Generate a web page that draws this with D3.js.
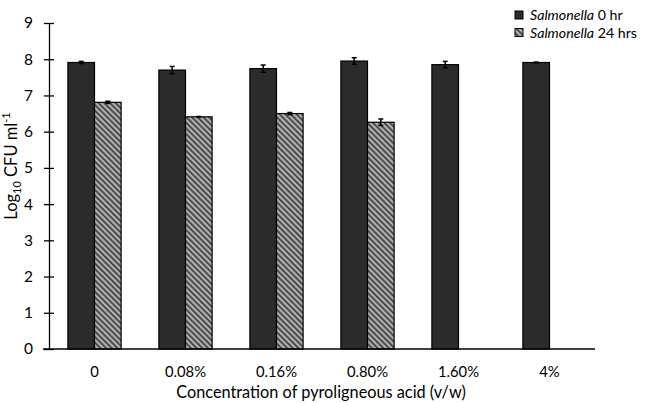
<!DOCTYPE html>
<html><head><meta charset="utf-8">
<script src="https://cdn.jsdelivr.net/npm/d3@7/dist/d3.min.js"></script>
<style>body{margin:0;background:#fff}svg{display:block}text{font-family:Lato,"Open Sans",sans-serif;fill:#000}</style>
</head><body><div id="chart"></div>
<script>
const categories = ["0", "0.08%", "0.16%", "0.80%", "1.60%", "4%"];
const series0 = [7.91, 7.70, 7.74, 7.95, 7.85, 7.91];
const err0 = [0.03, 0.10, 0.10, 0.09, 0.09, 0.01];
const series24 = [6.81, 6.41, 6.50, 6.26, null, null];
const err24 = [0.03, 0.01, 0.03, 0.09, null, null];
const seriesNames = ["Salmonella 0 hr", "Salmonella 24 hrs"];
const yTicks = [0,1,2,3,4,5,6,7,8,9];

const W = 649, H = 403;
const m = {left: 49, right: 54, top: 23, bottom: 54};
const svg = d3.select("#chart").append("svg").attr("width", W).attr("height", H);

const defs = svg.append("defs");
const pat = defs.append("pattern").attr("id","hatch").attr("patternUnits","userSpaceOnUse")
  .attr("width",4).attr("height",4).attr("patternTransform","rotate(-45)");
pat.append("rect").attr("width",4).attr("height",4).attr("fill","#b0b0b0");
pat.append("rect").attr("width",1.7).attr("height",4).attr("fill","#3c3c3c");

const x = d3.scaleBand().domain(categories).range([m.left, W - m.right]).paddingInner(0).paddingOuter(0);
const inner = d3.scaleBand().domain([0,1]).range([0, x.bandwidth()]).paddingInner(0).paddingOuter(0.71);
const y = d3.scaleLinear().domain([0, 9]).range([H - m.bottom, m.top]);

const data = [];
categories.forEach((c, i) => {
  data.push({c, s: 0, v: series0[i], e: err0[i]});
  if (series24[i] != null) data.push({c, s: 1, v: series24[i], e: err24[i]});
});

const g = svg.append("g");
g.selectAll("rect.bar").data(data).join("rect").attr("class","bar")
  .attr("x", d => x(d.c) + inner(d.s))
  .attr("width", inner.bandwidth())
  .attr("y", d => y(d.v))
  .attr("height", d => y(0) - y(d.v))
  .attr("fill", d => d.s === 0 ? "#2b2b2b" : "url(#hatch)")
  .attr("stroke", "#000").attr("stroke-width", 1.2);

// error bars
const eb = g.selectAll("g.err").data(data.filter(d => d.e)).join("g").attr("class","err");
eb.each(function(d){
  const cx = x(d.c) + inner(d.s) + inner.bandwidth()/2;
  const sel = d3.select(this);
  sel.append("line").attr("x1",cx).attr("x2",cx).attr("y1",y(d.v+d.e)).attr("y2",y(d.v-d.e)).attr("stroke","#000").attr("stroke-width",1.5);
  [d.v+d.e, d.v-d.e].forEach(v => sel.append("line").attr("x1",cx-2.5).attr("x2",cx+2.5).attr("y1",y(v)).attr("y2",y(v)).attr("stroke","#000").attr("stroke-width",1.5));
});

// y axis
const ya = svg.append("g").attr("transform",`translate(${m.left},0)`)
  .call(d3.axisLeft(y).tickValues(yTicks).tickFormat(d3.format("d")).tickSizeInner(5).tickSizeOuter(0));
ya.select(".domain").attr("stroke","#000").attr("stroke-width",1.3);
ya.selectAll(".tick line").attr("x2", 5).attr("x1",-5).attr("stroke","#000").attr("stroke-width",1.3);
ya.selectAll(".tick text").attr("x",-16).style("font-size","15.5px").style("font-family","Lato,sans-serif").attr("fill","#000");

// x axis
const xa = svg.append("g").attr("transform",`translate(0,${H - m.bottom})`)
  .call(d3.axisBottom(x).tickSize(0).tickSizeOuter(0));
xa.select(".domain").attr("stroke","#000").attr("stroke-width",1.3).attr("d", `M${m.left-6},0H${W - m.right}`);
xa.selectAll(".tick text").attr("dy", null).attr("y", 27.5).style("font-size","14.8px").style("font-family","Lato,sans-serif").attr("fill","#000");

// x title
svg.append("text").attr("x", (174+468)/2).attr("y", 397.5).attr("text-anchor","middle")
  .style("font-size","16.3px").text("Concentration of pyroligneous acid (v/w)");

// y title
const yt = svg.append("text").attr("transform","translate(17,166) rotate(-90)").attr("text-anchor","middle").style("font-size","16.5px");
yt.append("tspan").text("Log");
yt.append("tspan").attr("dy",4).style("font-size","11px").text("10");
yt.append("tspan").attr("dy",-4).text(" CFU ml");
yt.append("tspan").attr("dy",-7).style("font-size","11px").text("-1");

// legend
const leg = svg.append("g");
seriesNames.forEach((n, i) => {
  const ly = 15 + i*17.5;
  leg.append("rect").attr("x",515).attr("y",ly-4).attr("width",8).attr("height",8)
    .attr("fill", i===0 ? "#2b2b2b" : "url(#hatch)").attr("stroke","#000").attr("stroke-width",1);
  const t = leg.append("text").attr("x",530).attr("y",ly+5).style("font-size","14.2px");
  const parts = n.split(" ");
  t.append("tspan").style("font-style","italic").text(parts[0]);
  t.append("tspan").text(" " + parts.slice(1).join(" "));
});
</script></body></html>
